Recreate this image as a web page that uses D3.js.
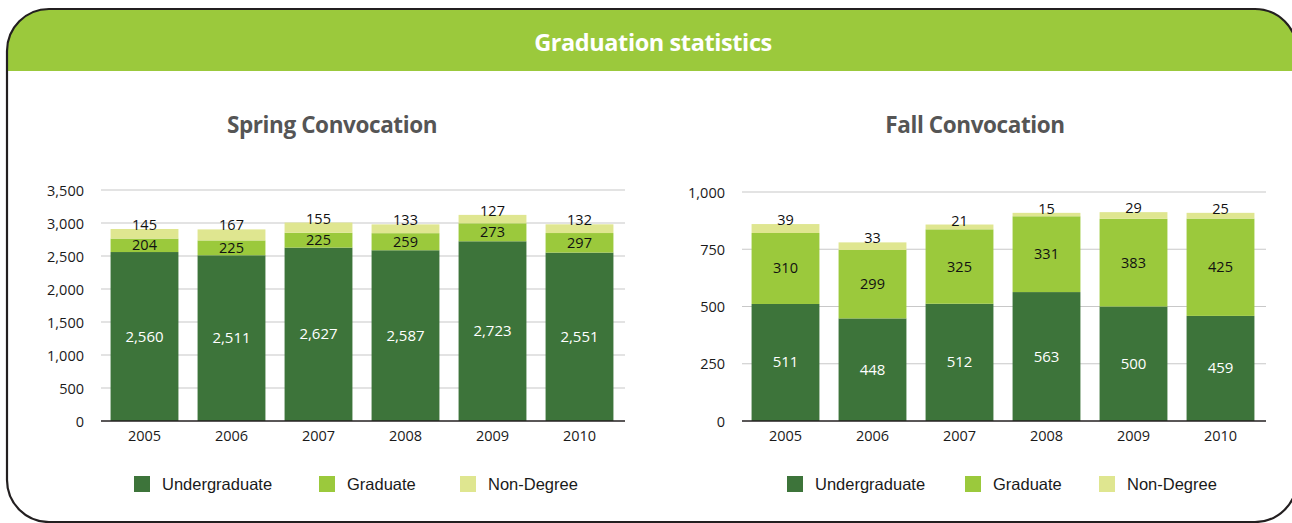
<!DOCTYPE html>
<html>
<head>
<meta charset="utf-8">
<script src="https://cdn.jsdelivr.net/npm/d3@7"></script>
<style>
  body { margin: 0; background: #fff; }
  svg text { font-family: "Open Sans", "Noto Sans", sans-serif; }
  .tick text { font-size: 14.5px; fill: #1a1a1a; }
  .legend text { font-family: "Liberation Sans", Arial, sans-serif; font-size: 16.5px; fill: #1a1a1a; }
</style>
</head>
<body>
<svg id="chart" width="1292" height="523"></svg>
<script>
var years = ["2005", "2006", "2007", "2008", "2009", "2010"];
var seriesNames = ["Undergraduate", "Graduate", "Non-Degree"];
var colors = ["#3d743a", "#9bc93c", "#dfe690"];

var springUndergrad = [2560, 2511, 2627, 2587, 2723, 2551];
var springGrad = [204, 225, 225, 259, 273, 297];
var springNonDegree = [145, 167, 155, 133, 127, 132];
var springTicks = [0, 500, 1000, 1500, 2000, 2500, 3000, 3500];

var fallUndergrad = [511, 448, 512, 563, 500, 459];
var fallGrad = [310, 299, 325, 331, 383, 425];
var fallNonDegree = [39, 33, 21, 15, 29, 25];
var fallTicks = [0, 250, 500, 750, 1000];

var svg = d3.select("#chart");

// outer frame + header band
var clipId = "frameClip";
svg.append("defs").append("clipPath").attr("id", clipId)
  .append("rect").attr("x", 7).attr("y", 9).attr("width", 1290).attr("height", 513).attr("rx", 42).attr("ry", 42);

svg.append("rect")
  .attr("x", 7).attr("y", 9).attr("width", 1290).attr("height", 62)
  .attr("fill", "#9bc93c")
  .attr("clip-path", "url(#" + clipId + ")");

svg.append("rect")
  .attr("x", 7).attr("y", 9).attr("width", 1290).attr("height", 513).attr("rx", 42).attr("ry", 42)
  .attr("fill", "none").attr("stroke", "#231f20").attr("stroke-width", 2.2);

svg.append("text")
  .attr("x", 653).attr("y", 51)
  .attr("text-anchor", "middle")
  .style("font-size", "23.5px").style("font-weight", "bold").style("fill", "#fff")
  .style("letter-spacing", "-0.4px")
  .text("Graduation statistics");

function drawChart(opt) {
  var g = svg.append("g");
  var rows = years.map(function(yr, i) {
    return { year: yr, Undergraduate: opt.u[i], Graduate: opt.g[i], "Non-Degree": opt.n[i] };
  });
  var x = d3.scaleBand().domain(years).range([opt.left, opt.left + 522]).paddingInner(0.22).paddingOuter(0.11);
  var y = d3.scaleLinear().domain([0, opt.max]).range([421, opt.top]);

  // title
  g.append("text")
    .attr("x", opt.titleX).attr("y", 133)
    .attr("text-anchor", "middle")
    .style("font-size", "22.5px").style("font-weight", "bold").style("fill", "#555")
    .style("letter-spacing", "-0.4px")
    .text(opt.title);

  // grid
  g.append("g").selectAll("line").data(opt.ticks.slice(1)).enter().append("line")
    .attr("x1", opt.left).attr("x2", opt.left + 524)
    .attr("y1", function(d) { return y(d); }).attr("y2", function(d) { return y(d); })
    .attr("stroke", "#c8c8c8").attr("stroke-width", 1.2);

  // y axis
  var ya = g.append("g")
    .attr("transform", "translate(" + (opt.left - 14) + ",0)")
    .call(d3.axisLeft(y).tickValues(opt.ticks).tickSize(0).tickFormat(d3.format(",")));
  ya.select(".domain").remove();
  ya.selectAll("text").attr("dy", "0.35em");

  var stack = d3.stack().keys(seriesNames)(rows);

  var layers = g.selectAll(".layer").data(stack).enter().append("g")
    .attr("fill", function(d, i) { return colors[i]; });

  layers.selectAll("rect").data(function(d) { return d; }).enter().append("rect")
    .attr("x", function(d) { return x(d.data.year); })
    .attr("width", x.bandwidth())
    .attr("y", function(d) { return y(d[1]); })
    .attr("height", function(d) { return y(d[0]) - y(d[1]); });

  // labels
  stack.forEach(function(layer, li) {
    g.append("g").selectAll("text").data(layer).enter().append("text")
      .attr("x", function(d) { return x(d.data.year) + x.bandwidth() / 2; })
      .attr("y", function(d) {
        if (li === 2) return y(d[1]) + 1;
        return (y(d[0]) + y(d[1])) / 2 + 5;
      })
      .attr("text-anchor", "middle")
      .style("font-size", li === 0 ? "15px" : "14.5px")
      .style("fill", li === 0 ? "#fff" : "#111")
      .text(function(d) { return d3.format(",")(d[1] - d[0]); });
  });

  // x axis
  var xa = g.append("g")
    .attr("transform", "translate(0,421)")
    .call(d3.axisBottom(x).tickSize(0).tickPadding(10));
  xa.select(".domain").attr("stroke", "#231f20").attr("stroke-width", 1.5)
    .attr("d", "M" + opt.left + ",0H" + (opt.left + 524));

  // legend
  var lg = g.append("g").attr("class", "legend");
  seriesNames.forEach(function(name, i) {
    lg.append("rect").attr("x", opt.legendX[i]).attr("y", 476).attr("width", 16).attr("height", 16).attr("fill", colors[i]);
    lg.append("text").attr("x", opt.legendX[i] + 28).attr("y", 490).text(name);
  });
}

drawChart({
  title: "Spring Convocation", titleX: 332,
  left: 101, top: 190, max: 3500, ticks: springTicks,
  u: springUndergrad, g: springGrad, n: springNonDegree,
  legendX: [134, 319, 460]
});

drawChart({
  title: "Fall Convocation", titleX: 975,
  left: 742, top: 192, max: 1000, ticks: fallTicks,
  u: fallUndergrad, g: fallGrad, n: fallNonDegree,
  legendX: [787, 965, 1099]
});
</script>
</body>
</html>
